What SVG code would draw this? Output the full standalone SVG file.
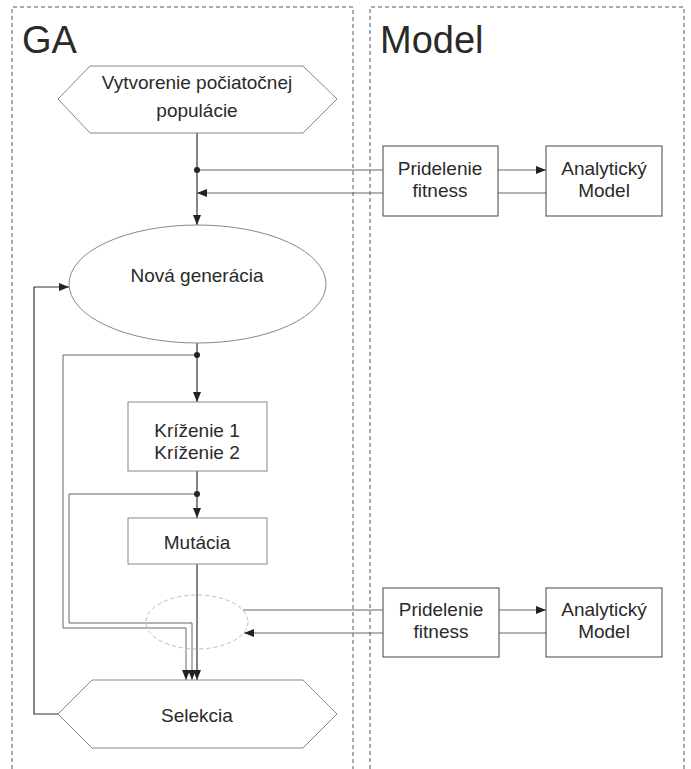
<svg xmlns="http://www.w3.org/2000/svg" width="691" height="769" viewBox="0 0 691 769">
<style>
text{font-family:"Liberation Sans",Arial,sans-serif;fill:#2a2a2a;text-anchor:middle}
.lane{fill:none;stroke:#555;stroke-width:1;stroke-dasharray:4,3}
.title{font-size:38px;text-anchor:start}
.lbl{font-size:19px}
.shape{fill:#fff;stroke:#888;stroke-width:1}
.box{fill:#fff;stroke:#444;stroke-width:1}
.c{fill:none;stroke:#333;stroke-width:1.2}
.g{fill:none;stroke:#666;stroke-width:1}
.dot{fill:#222}
</style>
<defs>
<marker id="ah" viewBox="0 0 10 8" refX="10" refY="4" markerWidth="10" markerHeight="8" markerUnits="userSpaceOnUse" orient="auto">
<path d="M0,0 L10,4 L0,8 z" fill="#222"/>
</marker>
</defs>
<g id="lanes">
<path class="lane" d="M12,769 V7 H353 V769"/>
<path class="lane" d="M370,769 V7 H684 V769"/>
<text class="title" x="22" y="53">GA</text>
<text class="title" x="380" y="53">Model</text>
</g>
<g id="connectors">
<path class="c" d="M197,133 V225" marker-end="url(#ah)"/>
<path class="g" d="M197,170 H383"/>
<path class="g" d="M383,193 H197" marker-end="url(#ah)"/>
<path class="g" d="M498,170 H546" marker-end="url(#ah)"/>
<path class="g" d="M546,193 H498"/>
<path class="c" d="M197,343 V402" marker-end="url(#ah)"/>
<path class="c" d="M197,471 V518" marker-end="url(#ah)"/>
<path class="c" d="M197,564 V680" marker-end="url(#ah)"/>
<path class="g" d="M197,355 H63 V628 H186 V680" marker-end="url(#ah)"/>
<path class="g" d="M197,494 H69 V623 H192 V680" marker-end="url(#ah)"/>
<path class="c" d="M58,714 H34 V287 H69" marker-end="url(#ah)"/>
<path class="g" d="M243,610 H383"/>
<path class="g" d="M383,633 H244" marker-end="url(#ah)"/>
<path class="g" d="M499,610 H546" marker-end="url(#ah)"/>
<path class="g" d="M546,633 H499"/>
<circle class="dot" cx="197" cy="170" r="3"/>
<circle class="dot" cx="197" cy="355" r="3"/>
<circle class="dot" cx="197" cy="494" r="3"/>
</g>
<g id="init">
<polygon class="shape" points="58,99 90,66 303,66 337,99 303,133 90,133"/>
<text class="lbl" x="197" y="89">Vytvorenie počiatočnej</text>
<text class="lbl" x="197" y="117">populácie</text>
</g>
<g id="fitness1">
<rect class="box" x="383" y="146" width="115" height="70"/>
<text class="lbl" x="440" y="175">Pridelenie</text>
<text class="lbl" x="440" y="197">fitness</text>
</g>
<g id="model1">
<rect class="box" x="546" y="146" width="116" height="70"/>
<text class="lbl" x="604" y="175">Analytický</text>
<text class="lbl" x="604" y="197">Model</text>
</g>
<g id="generation">
<ellipse class="shape" cx="197.5" cy="284" rx="128.5" ry="59"/>
<text class="lbl" x="197" y="282">Nová generácia</text>
</g>
<g id="crossover">
<rect class="shape" x="128" y="402" width="139" height="69"/>
<text class="lbl" x="197" y="437">Kríženie 1</text>
<text class="lbl" x="197" y="459">Kríženie 2</text>
</g>
<g id="mutation">
<rect class="shape" x="128" y="518" width="139" height="46"/>
<text class="lbl" x="197" y="549">Mutácia</text>
</g>
<g id="eval">
<ellipse cx="197" cy="622" rx="51" ry="27" fill="none" stroke="#bbb" stroke-width="1" stroke-dasharray="4,3"/>
</g>
<g id="fitness2">
<rect class="box" x="383" y="588" width="116" height="69"/>
<text class="lbl" x="441" y="616">Pridelenie</text>
<text class="lbl" x="441" y="638">fitness</text>
</g>
<g id="model2">
<rect class="box" x="546" y="588" width="116" height="69"/>
<text class="lbl" x="604" y="616">Analytický</text>
<text class="lbl" x="604" y="638">Model</text>
</g>
<g id="selection">
<polygon class="shape" points="58,714 92,680 303,680 337,714 303,748 92,748"/>
<text class="lbl" x="197" y="722">Selekcia</text>
</g>
</svg>
